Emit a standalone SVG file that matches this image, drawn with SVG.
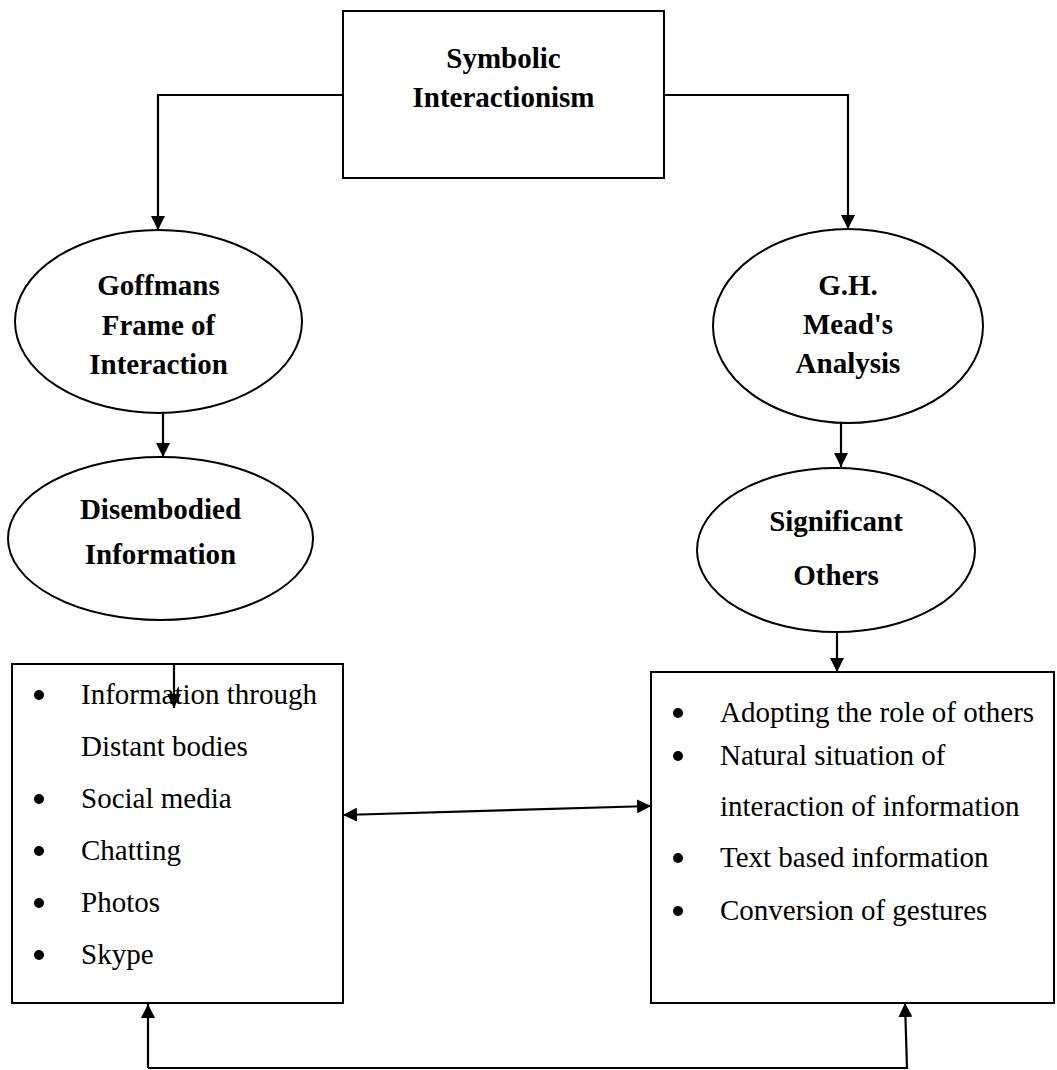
<svg xmlns="http://www.w3.org/2000/svg" width="1057" height="1070" viewBox="0 0 1057 1070">
<defs>
<style>
.shape{fill:#fff;stroke:#000;stroke-width:2}
.bold{font-family:"Liberation Serif","Times New Roman",serif;font-weight:bold;font-size:29px;fill:#000;text-anchor:middle}
.item{font-family:"Liberation Serif","Times New Roman",serif;font-size:29px;fill:#000}
.conn{fill:none;stroke:#000;stroke-width:2.2}
.dot{fill:#000}
</style>
<marker id="ah" markerUnits="userSpaceOnUse" markerWidth="14" markerHeight="14" refX="14" refY="7" orient="auto-start-reverse" viewBox="0 0 14 14">
<path d="M0,0 L14,7 L0,14 z" fill="#000"/>
</marker>
</defs>
<rect width="1057" height="1070" fill="#fff"/>

<g id="symbolic-interactionism">
<rect class="shape" x="343" y="11" width="321" height="167"/>
<text class="bold" x="503.5" y="68">Symbolic</text>
<text class="bold" x="503.5" y="107">Interactionism</text>
</g>

<g id="goffmans-frame">
<ellipse class="shape" cx="158.5" cy="321.5" rx="143.5" ry="91.5"/>
<text class="bold" x="158.5" y="295">Goffmans</text>
<text class="bold" x="158.5" y="335">Frame of</text>
<text class="bold" x="158.5" y="374">Interaction</text>
</g>

<g id="mead-analysis">
<ellipse class="shape" cx="848" cy="326" rx="135" ry="97"/>
<text class="bold" x="848" y="295">G.H.</text>
<text class="bold" x="848" y="334">Mead's</text>
<text class="bold" x="848" y="373">Analysis</text>
</g>

<g id="disembodied-information">
<ellipse class="shape" cx="160.5" cy="538.5" rx="152.5" ry="81.5"/>
<text class="bold" x="160.5" y="519">Disembodied</text>
<text class="bold" x="160.5" y="564">Information</text>
</g>

<g id="significant-others">
<ellipse class="shape" cx="836" cy="550" rx="139" ry="82"/>
<text class="bold" x="836" y="531">Significant</text>
<text class="bold" x="836" y="585">Others</text>
</g>

<g id="left-list">
<rect class="shape" x="12" y="664" width="331" height="339"/>
<circle class="dot" cx="39" cy="695" r="5"/>
<text class="item" x="81" y="704">Information through</text>
<text class="item" x="81" y="756">Distant bodies</text>
<circle class="dot" cx="39" cy="799" r="5"/>
<text class="item" x="81" y="808">Social media</text>
<circle class="dot" cx="39" cy="851" r="5"/>
<text class="item" x="81" y="860">Chatting</text>
<circle class="dot" cx="39" cy="903" r="5"/>
<text class="item" x="81" y="912">Photos</text>
<circle class="dot" cx="39" cy="955" r="5"/>
<text class="item" x="81" y="964">Skype</text>
</g>

<g id="right-list">
<rect class="shape" x="651" y="672" width="403" height="331"/>
<circle class="dot" cx="678" cy="713" r="5"/>
<text class="item" x="720" y="722">Adopting the role of others</text>
<circle class="dot" cx="678" cy="756" r="5"/>
<text class="item" x="720" y="765">Natural situation of</text>
<text class="item" x="720" y="816">interaction of information</text>
<circle class="dot" cx="678" cy="858" r="5"/>
<text class="item" x="720" y="867">Text based information</text>
<circle class="dot" cx="678" cy="911" r="5"/>
<text class="item" x="720" y="920">Conversion of gestures</text>
</g>

<g id="connectors">
<path class="conn" d="M343,95 H158 V230" marker-end="url(#ah)"/>
<path class="conn" d="M664,95 H848 V229" marker-end="url(#ah)"/>
<path class="conn" d="M163,413 V457" marker-end="url(#ah)"/>
<path class="conn" d="M841,423 V467" marker-end="url(#ah)"/>
<path class="conn" d="M174,663 V708" marker-end="url(#ah)"/>
<path class="conn" d="M837,632 V672" marker-end="url(#ah)"/>
<path class="conn" d="M343,815 L651,806" marker-start="url(#ah)" marker-end="url(#ah)"/>
<path class="conn" d="M148,1068 V1004" marker-end="url(#ah)"/>
<path class="conn" d="M148,1068 H907 L905,1003" marker-end="url(#ah)"/>
</g>
</svg>
